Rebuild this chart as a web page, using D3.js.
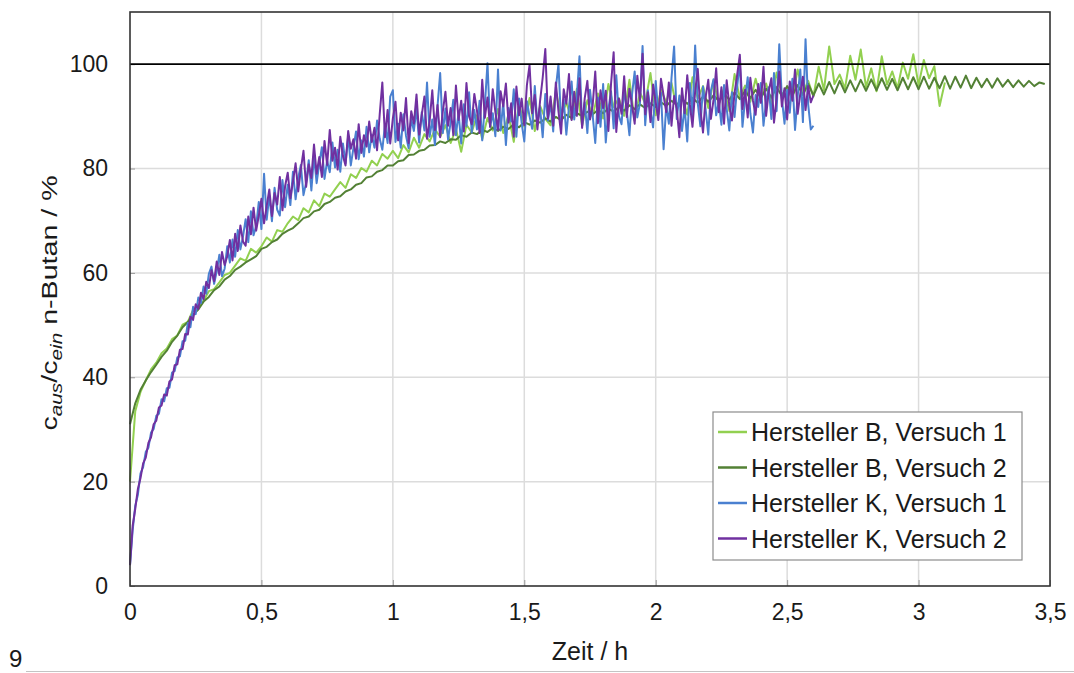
<!DOCTYPE html>
<html>
<head>
<meta charset="utf-8">
<script src="https://cdn.jsdelivr.net/npm/d3@7"></script>
<style>
  body { margin: 0; background: #fff; }
  text { font-family: "Liberation Sans", Arial, sans-serif; fill: #1a1a1a; }
</style>
</head>
<body>
<div id="chart"></div>
<script>
var seriesNames = ["Hersteller B, Versuch 1", "Hersteller B, Versuch 2",
                   "Hersteller K, Versuch 1", "Hersteller K, Versuch 2"]
var seriesColors = ["#92d050", "#538135", "#4a80d0", "#7030a0"]
// sample spacing of each logged series, in hours
var seriesStep = [0.02, 0.02, 0.01, 0.01]

var xTicks = [0, 0.5, 1, 1.5, 2, 2.5, 3, 3.5]
var yTicks = [0, 20, 40, 60, 80, 100]

// Hersteller B, Versuch 1 (0 .. 3,10 h, every 0,02 h)
var herstellerB1 = [
  20.0, 33.5, 37.2, 39.4, 41.5, 42.8, 44.6, 45.5, 47.3, 48.0,
  50.1, 50.6, 52.9, 53.4, 54.7, 56.5, 56.9, 58.2, 59.6, 60.0,
  61.4, 62.8, 62.3, 64.6, 63.9, 65.1, 66.8, 66.0, 68.2, 67.9,
  69.5, 70.8, 70.1, 72.4, 71.6, 73.9, 72.8, 75.2, 74.6, 76.0,
  77.4, 76.3, 78.9, 78.2, 80.1, 79.4, 81.5, 80.6, 82.8, 81.9,
  83.4, 82.0, 84.5, 83.1, 85.9, 84.0, 86.6, 85.2, 87.5, 86.1,
  88.3, 84.9, 87.6, 83.2, 88.4, 86.9, 90.2, 85.6, 89.7, 87.3,
  91.4, 86.8, 90.3, 85.1, 92.6, 88.0, 93.5, 87.2, 92.0, 89.5,
  88.3, 94.8, 90.1, 92.6, 89.4, 95.3, 88.2, 93.1, 90.0, 94.4,
  89.6, 96.2, 91.8, 93.5, 90.1, 97.0, 89.2, 94.6, 92.5, 98.3,
  90.2, 95.1, 92.7, 96.4, 91.6, 94.2, 90.3, 97.5, 93.4, 95.8,
  91.6, 96.9, 92.3, 95.4, 91.0, 98.1, 93.6, 95.9, 92.8, 97.2,
  93.4, 96.3, 92.5, 98.4, 94.0, 95.7, 93.2, 99.0, 94.5, 96.8,
  93.8, 99.5, 95.0, 103.4, 96.2, 98.0, 95.3, 101.6, 97.0, 102.8,
  95.6, 99.2, 94.8, 101.5, 96.1, 98.6, 95.4, 100.3, 97.2, 101.9,
  96.0, 100.8, 97.3, 99.6, 92.0, 96.5
]

// Hersteller B, Versuch 2 (0 .. 3,48 h, every 0,02 h)
var herstellerB2 = [
  31.0, 35.0, 37.6, 39.4, 41.0, 42.4, 43.9, 45.1, 46.8, 48.0,
  49.6, 50.6, 52.0, 53.0, 54.5, 55.4, 56.7, 57.4, 58.7, 59.4,
  60.6, 61.2, 62.0, 62.6, 63.2, 64.6, 65.0, 65.9, 66.4, 67.5,
  68.1, 68.6, 69.5, 70.5, 70.8, 71.8, 72.1, 73.2, 73.6, 74.4,
  74.7, 75.6, 76.0, 76.9, 77.2, 78.3, 78.5, 79.4, 79.7, 80.6,
  80.6, 81.4, 81.6, 82.6, 82.7, 83.4, 83.6, 84.4, 84.5, 85.2,
  84.9, 85.6, 85.5, 86.4, 86.1, 86.9, 86.6, 87.4, 87.0, 87.8,
  87.2, 88.0, 87.6, 88.5, 87.9, 88.9, 88.4, 89.2, 88.8, 89.6,
  89.0, 89.9, 89.3, 90.3, 89.7, 90.6, 90.1, 90.9, 90.4, 91.2,
  90.6, 91.5, 90.9, 91.8, 91.1, 92.1, 91.4, 92.3, 91.6, 92.5,
  91.8, 92.7, 92.0, 93.0, 92.2, 93.3, 92.4, 93.5, 92.6, 93.8,
  92.8, 94.0, 93.0, 94.3, 93.2, 94.6, 93.3, 94.9, 93.5, 95.1,
  93.5, 95.3, 93.6, 95.6, 93.9, 95.8, 94.0, 96.0, 94.1, 96.2,
  94.0, 96.3, 94.2, 96.6, 94.4, 96.8, 94.6, 96.9, 94.8, 97.0,
  94.9, 97.1, 95.0, 97.3, 95.1, 97.2, 95.0, 97.4, 95.2, 97.5,
  95.2, 97.6, 95.3, 97.4, 95.4, 97.7, 95.3, 97.6, 95.5, 97.8,
  95.4, 97.4, 95.6, 97.2, 95.5, 97.3, 95.7, 97.0, 95.6, 96.9,
  95.7, 96.8, 95.8, 96.5, 96.2
]

// Hersteller K, Versuch 1 (0 .. 2,60 h, every 0,01 h)
var herstellerK1 = [
  4.0, 10.6, 15.4, 17.5, 21.6, 22.8, 25.7, 26.5, 29.4, 30.1,
  32.6, 33.0, 35.8, 35.4, 37.9, 38.0, 40.9, 41.2, 43.8, 44.0,
  46.9, 47.0, 50.4, 49.6, 53.5, 52.1, 55.3, 54.2, 57.4, 56.0,
  59.8, 61.2, 57.9, 60.3, 63.5, 59.4, 60.8, 65.1, 62.0, 66.4,
  63.1, 68.2, 64.5, 67.0, 70.3, 65.9, 71.8, 67.2, 69.0, 73.6,
  68.4, 79.0, 70.2, 74.8, 69.9, 76.3, 72.1, 71.0, 77.8, 72.6,
  76.9, 73.0, 79.4, 74.1, 78.2, 80.7, 74.9, 77.3, 81.6, 75.8,
  82.4, 77.2, 80.9, 84.1, 78.0, 81.5, 79.3, 85.0, 80.2, 83.6,
  79.4, 84.8, 81.0, 86.2, 80.6, 83.9, 87.1, 81.8, 85.4, 82.3,
  88.0, 83.1, 86.5, 84.0, 89.2, 85.7, 83.6, 88.4, 84.9, 93.8,
  95.0, 85.1, 88.6, 84.0, 90.4, 86.3, 83.9, 89.5, 87.2, 91.6,
  85.0, 90.8, 87.3, 96.5, 86.1, 89.4, 84.5, 92.0, 98.3, 86.8,
  91.5, 85.6, 88.9, 93.2, 86.4, 90.7, 84.8, 92.3, 88.1, 94.6,
  86.9, 91.2, 87.5, 93.0, 85.4, 92.1, 100.2, 88.0, 90.6, 86.2,
  99.0, 87.3, 92.8, 84.5, 91.6, 89.0, 95.2, 86.1, 93.4, 88.7,
  85.2, 92.9, 90.0, 87.6, 95.8, 88.4, 91.7, 86.0, 94.3, 89.2,
  92.6, 87.1, 95.4, 100.0, 88.9, 93.2, 86.5, 91.8, 96.7, 89.4,
  94.0, 101.5, 88.2, 92.7, 86.8, 95.1, 90.3, 84.9, 93.6, 88.0,
  96.2, 85.0, 91.4, 94.8, 87.7, 97.9, 90.1, 88.5, 95.3, 91.0,
  86.4, 94.2, 98.6, 89.8, 92.5, 103.5, 88.3, 95.0, 91.2, 87.9,
  96.8, 90.4, 94.5, 83.7, 92.1, 88.6, 97.3, 103.4, 89.5, 94.0,
  87.2, 91.8, 85.2, 96.4, 90.0, 103.6, 92.5, 88.1, 95.7, 91.3,
  86.5, 94.9, 97.1, 90.2, 92.8, 88.4, 96.0, 91.5, 87.3, 94.6,
  89.9, 95.8, 100.4, 88.0, 93.2, 97.5, 90.6, 86.9, 94.1, 91.8,
  96.4, 88.2, 92.9, 95.6, 89.5, 98.3, 91.0, 103.8, 93.4, 88.6,
  95.1, 90.7, 97.2, 87.4, 93.8, 99.0, 88.9, 104.8, 92.3, 87.5,
  88.2
]

// Hersteller K, Versuch 2 (0 .. 2,60 h, every 0,01 h)
var herstellerK2 = [
  4.0, 11.5, 14.8, 18.6, 20.7, 23.5, 24.6, 27.4, 28.5, 31.0,
  31.7, 34.2, 34.6, 36.7, 36.5, 39.2, 39.6, 42.3, 42.5, 45.3,
  45.4, 48.3, 48.2, 51.6, 51.0, 54.0, 53.1, 56.2, 55.0, 58.3,
  57.1, 60.5, 58.4, 62.2, 59.6, 64.0, 61.5, 63.2, 66.3, 62.4,
  67.5, 64.2, 69.1, 66.0, 65.2, 70.8, 67.4, 72.5, 68.1, 71.0,
  74.2, 69.5, 72.8, 76.0, 70.9, 75.3, 73.1, 78.4, 72.0, 76.6,
  79.2, 74.3, 77.5, 81.0, 75.6, 79.9, 83.4, 76.5, 80.8, 78.2,
  84.6, 79.0, 82.2, 78.4, 85.3, 80.7, 87.4, 81.5, 84.0, 79.8,
  86.1, 82.4, 80.6, 87.2, 83.8, 85.6, 81.9, 88.5, 83.0, 86.4,
  84.2, 89.0, 85.1, 87.8, 83.5, 90.4, 96.5, 86.0, 91.2, 84.8,
  89.6, 92.8, 85.4, 90.7, 87.3, 93.5, 84.9, 91.0, 88.6, 94.2,
  86.5, 90.3, 93.8, 85.7, 89.1, 95.0, 87.4, 92.2, 86.0, 90.9,
  94.7, 88.2, 91.6, 86.4, 95.9, 89.3, 93.0, 87.1, 96.4, 90.0,
  88.5, 94.3, 91.1, 86.8, 97.0, 89.7, 93.6, 88.0, 95.2, 90.8,
  87.4, 94.8, 91.9, 96.3, 88.8, 92.5, 86.1, 95.7, 90.2, 93.4,
  88.3, 96.0, 99.8, 90.6, 94.1, 87.5, 92.9, 97.4, 102.9, 89.6,
  93.8, 88.2, 96.5, 91.0, 86.7, 95.2, 92.4, 98.1, 89.3, 94.7,
  90.1, 97.3, 87.8, 93.5, 96.8, 89.4, 92.0, 98.6, 88.7, 95.0,
  91.6, 94.9, 87.2, 96.2, 102.3, 87.0, 93.4, 90.5, 97.7, 89.9,
  95.3, 92.1, 88.6, 97.8, 93.0, 102.0, 90.4, 94.6, 88.9, 96.1,
  92.7, 89.3, 97.2, 94.0, 90.8, 96.5, 88.2, 93.9, 91.5, 86.0,
  95.4, 90.6, 97.9, 92.2, 88.0, 94.8, 99.1, 91.3, 86.9, 93.7,
  97.0, 89.5, 93.2, 99.2, 90.8, 95.6, 88.6, 96.9, 92.0, 89.2,
  94.5, 98.0, 101.8, 91.4, 95.1, 89.8, 97.4, 93.0, 90.3, 96.2,
  92.6, 99.5, 90.1, 94.8, 97.3, 88.8, 93.5, 98.6, 91.9, 95.4,
  89.4, 96.7, 93.0, 99.0, 90.5, 94.3, 97.6, 91.2, 95.8, 92.7,
  94.0
]

var allSeries = [herstellerB1, herstellerB2, herstellerK1, herstellerK2]

var width = 1074, height = 673
var margin = {top: 12, right: 24, bottom: 87, left: 130}
var plotW = width - margin.left - margin.right
var plotH = height - margin.top - margin.bottom

var locale = d3.formatLocale({decimal: ",", thousands: ".", grouping: [3], currency: ["", " €"]})
var fmt = locale.format("~g")

var svg = d3.select("#chart").append("svg")
  .attr("width", width)
  .attr("height", height)

var g = svg.append("g")
  .attr("transform", "translate(" + margin.left + "," + margin.top + ")")

var x = d3.scaleLinear().domain([0, 3.5]).range([0, plotW])
var y = d3.scaleLinear().domain([0, 110]).range([plotH, 0])

// grid
g.append("g").selectAll("line").data(xTicks.slice(1, -1)).enter().append("line")
  .attr("x1", function(d){ return x(d) }).attr("x2", function(d){ return x(d) })
  .attr("y1", 0).attr("y2", plotH)
  .attr("stroke", "#dcdcdc").attr("stroke-width", 1.5)
g.append("g").selectAll("line").data(yTicks.slice(1, -1)).enter().append("line")
  .attr("x1", 0).attr("x2", plotW)
  .attr("y1", function(d){ return y(d) }).attr("y2", function(d){ return y(d) })
  .attr("stroke", "#dcdcdc").attr("stroke-width", 1.5)

// axes with inner ticks
var xAxis = g.append("g")
  .attr("transform", "translate(0," + plotH + ")")
  .call(d3.axisBottom(x).tickValues(xTicks).tickFormat(fmt).tickSizeInner(-6).tickSizeOuter(0).tickPadding(18))
var yAxis = g.append("g")
  .call(d3.axisLeft(y).tickValues(yTicks).tickFormat(fmt).tickSizeInner(-5).tickSizeOuter(0).tickPadding(22))
;[xAxis, yAxis].forEach(function(ax){
  ax.select(".domain").remove()
  ax.selectAll(".tick line").attr("stroke", "#999").attr("stroke-width", 1)
  ax.selectAll(".tick text").style("font-size", "23px").attr("fill", "#1a1a1a")
})

// lines
g.append("g").selectAll("path").data(allSeries).enter().append("path")
  .attr("d", function(d, k) {
    return d3.line()
      .x(function(v, i){ return x(i * seriesStep[k]) })
      .y(function(v){ return y(v) })(d)
  })
  .attr("fill", "none")
  .attr("stroke", function(d, i){ return seriesColors[i] })
  .attr("stroke-width", 2)
  .attr("stroke-linejoin", "round")

// 100 % reference line
g.append("line")
  .attr("x1", 0).attr("x2", plotW)
  .attr("y1", y(100)).attr("y2", y(100))
  .attr("stroke", "#000").attr("stroke-width", 1.8)

// frame
g.append("rect")
  .attr("width", plotW).attr("height", plotH)
  .attr("fill", "none").attr("stroke", "#333").attr("stroke-width", 1.6)

// legend
var legend = g.append("g").attr("transform", "translate(583,400)")
legend.append("rect")
  .attr("width", 309).attr("height", 148)
  .attr("fill", "#fff").attr("stroke", "#8c8c8c").attr("stroke-width", 1.2)
var items = legend.selectAll("g.item").data(seriesNames).enter().append("g")
  .attr("transform", function(d, i){ return "translate(0," + (20 + i * 35.5) + ")" })
items.append("line")
  .attr("x1", 5).attr("x2", 34).attr("y1", 0).attr("y2", 0)
  .attr("stroke", function(d, i){ return seriesColors[i] }).attr("stroke-width", 2.5)
items.append("text")
  .attr("x", 38).attr("dy", "0.36em")
  .style("font-size", "25px")
  .text(function(d){ return d })

// axis titles
svg.append("text")
  .attr("x", margin.left + plotW / 2).attr("y", 660)
  .attr("text-anchor", "middle")
  .style("font-size", "25px")
  .text("Zeit / h")

// y title is a bit wider in the original, stretch it along its reading direction
var yTitle = svg.append("text")
  .attr("transform", "translate(57,303) rotate(-90) scale(1.3,1)")
  .attr("text-anchor", "middle")
  .style("font-size", "22px")
yTitle.append("tspan").text("c")
yTitle.append("tspan").attr("font-style", "italic").style("font-size", "16px").attr("dy", 5).text("aus")
yTitle.append("tspan").attr("dy", -5).text("/c")
yTitle.append("tspan").attr("font-style", "italic").style("font-size", "16px").attr("dy", 5).text("ein")
yTitle.append("tspan").attr("dy", -5).text(" n-Butan / %")

// page number and rule
svg.append("text")
  .attr("x", 9).attr("y", 667)
  .style("font-size", "24px")
  .text("9")
svg.append("line")
  .attr("x1", 26).attr("x2", width).attr("y1", 671.5).attr("y2", 671.5)
  .attr("stroke", "#c4c4c4").attr("stroke-width", 1)
</script>
</body>
</html>
